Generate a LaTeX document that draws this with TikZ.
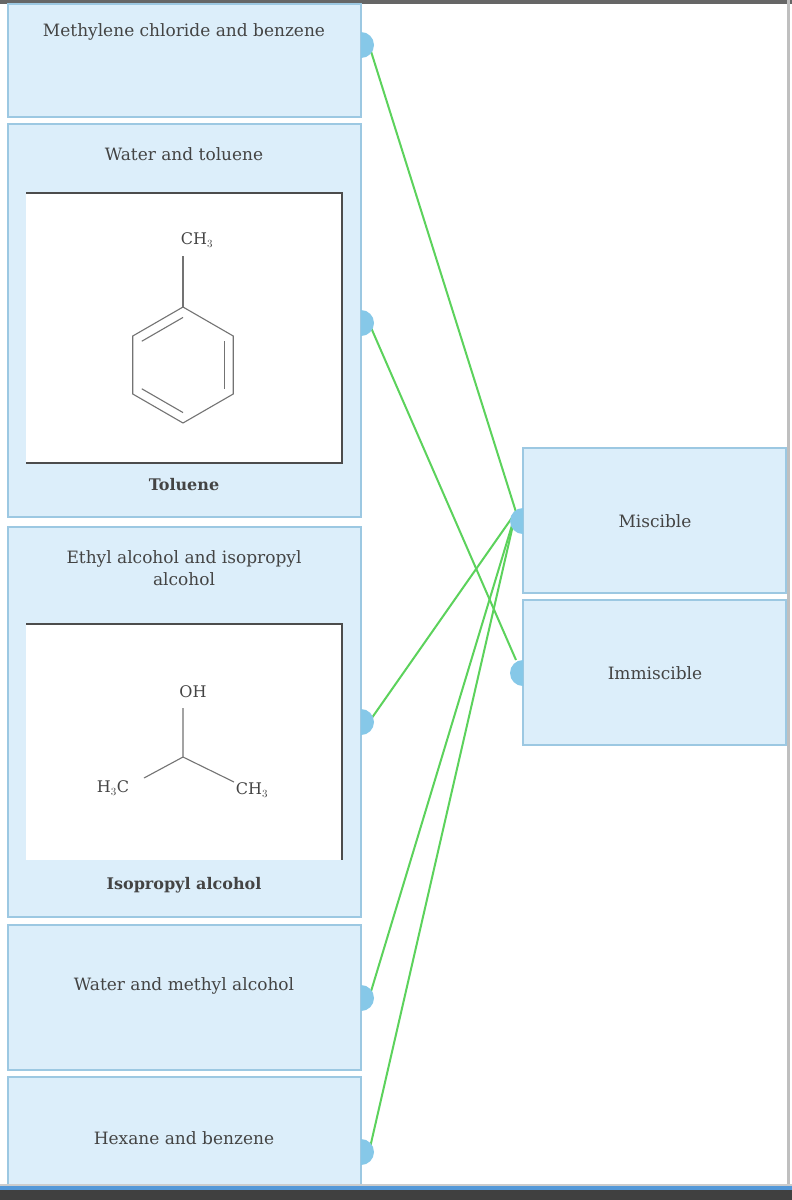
\documentclass[tikz,border=0pt]{standalone}
\usepackage{fontspec}
\setmainfont{DejaVu Serif}
\usetikzlibrary{calc}
\definecolor{boxfill}{HTML}{DCEEFA}
\definecolor{boxline}{HTML}{9CC8E2}
\definecolor{dot}{HTML}{86C8E8}
\definecolor{grn}{HTML}{5CD25C}
\definecolor{txt}{HTML}{444444}
\begin{document}
\begin{tikzpicture}[x=1pt,y=-1pt,
  card/.style={draw=boxline,fill=boxfill,line width=1.2pt},
  lbl/.style={font=\fontsize{17}{22}\selectfont,text=txt,align=center},
  blbl/.style={font=\fontsize{16}{20}\selectfont\bfseries,text=txt},
  chem/.style={font=\fontsize{16}{18}\selectfont,text=txt,inner sep=1pt},
  bond/.style={draw=gray!90!black,line width=1.1pt},
  conn/.style={draw=grn,line width=2pt},
  half/.style={fill=dot}]
\useasboundingbox (0,0) rectangle (792,1200);
\fill[white] (0,0) rectangle (792,1200);
\fill[gray!80!black] (0,0) rectangle (792,4);
\fill[gray!50] (787,0) rectangle (790,1186);
% left cards
\path[card] (8,4) rectangle (361,117);
\path[card] (8,124) rectangle (361,517);
\path[card] (8,527) rectangle (361,917);
\path[card] (8,925) rectangle (361,1070);
\path[card] (8,1077) rectangle (361,1190);
\path[card] (523,448) rectangle (786,593);
\path[card] (523,600) rectangle (786,745);
\node[lbl] (t1) at (184,32) {Methylene chloride and benzene};
\node[lbl] (t2) at (184,154) {Water and toluene};
\node[lbl] (t3) at (184,568) {Ethyl alcohol and isopropyl\\alcohol};
\node[lbl] (t4) at (184,986) {Water and methyl alcohol};
\node[lbl] (t5) at (184,1138) {Hexane and benzene};
\node[lbl] (m) at (655,521) {Miscible};
\node[lbl] (im) at (655,673) {Immiscible};
\node[blbl] (b2) at (184,485) {Toluene};
\node[blbl] (b3) at (184,885) {Isopropyl alcohol};
% white panels
\fill[white] (26,193) rectangle (342,463);
\draw[gray!60!black,line width=1.3pt] (26,193) -- (342,193) -- (342,463) -- (26,463);
\fill[white] (26,624) rectangle (342,860);
\draw[gray!60!black,line width=1.3pt] (26,624) -- (342,624) -- (342,860);
% toluene
\foreach \i in {0,...,5}{\coordinate (h\i) at ({183+58*cos(90+60*\i)},{365-58*sin(90+60*\i)});}
\draw[bond] (h0)--(h1)--(h2)--(h3)--(h4)--(h5)--cycle;
\foreach \a/\b in {0/1,2/3,4/5}{
  \draw[bond] ($(183,365)!0.82!(h\a)$) -- ($(183,365)!0.82!(h\b)$);}
\node[chem] (ch3a) at (197,240) {CH$_3$};
\draw[bond] (h0) -- (183,256);
% isopropyl
\coordinate (c0) at (183,757);
\node[chem] (oh) at (193,692) {OH};
\node[chem] (h3c) at (113,788) {H$_3$C};
\node[chem] (ch3b) at (252,790) {CH$_3$};
\draw[bond] (183,708) -- (c0) -- (144,778);
\draw[bond] (c0) -- (234,782);
% connectors
\coordinate (L1) at (369,45);
\coordinate (L2) at (369,323);
\coordinate (L3) at (369,722);
\coordinate (L4) at (369,998);
\coordinate (L5) at (369,1152);
\coordinate (RM) at (516,512);
\coordinate (RI) at (516,660);
\draw[conn] (L1)--(RM); \draw[conn] (L2)--(RI); \draw[conn] (L3)--(RM);
\draw[conn] (L4)--(RM); \draw[conn] (L5)--(RM);
\foreach \y in {45,323,722,998,1152}{\fill[dot] (361,\y) ++(0,-13) arc[start angle=-90,end angle=90,radius=13] -- cycle;}
\foreach \y in {521,673}{\fill[dot] (523,\y) ++(0,-13) arc[start angle=-90,end angle=-270,radius=13] -- cycle;}
% bottom bar
\fill[white] (0,1186) rectangle (792,1200);
\fill[gray!40] (0,1184) rectangle (792,1186);
\fill[black!75] (0,1189) rectangle (792,1200);
\fill[cyan!60!blue!70] (0,1186) rectangle (792,1190);
\end{tikzpicture}
\end{document}
